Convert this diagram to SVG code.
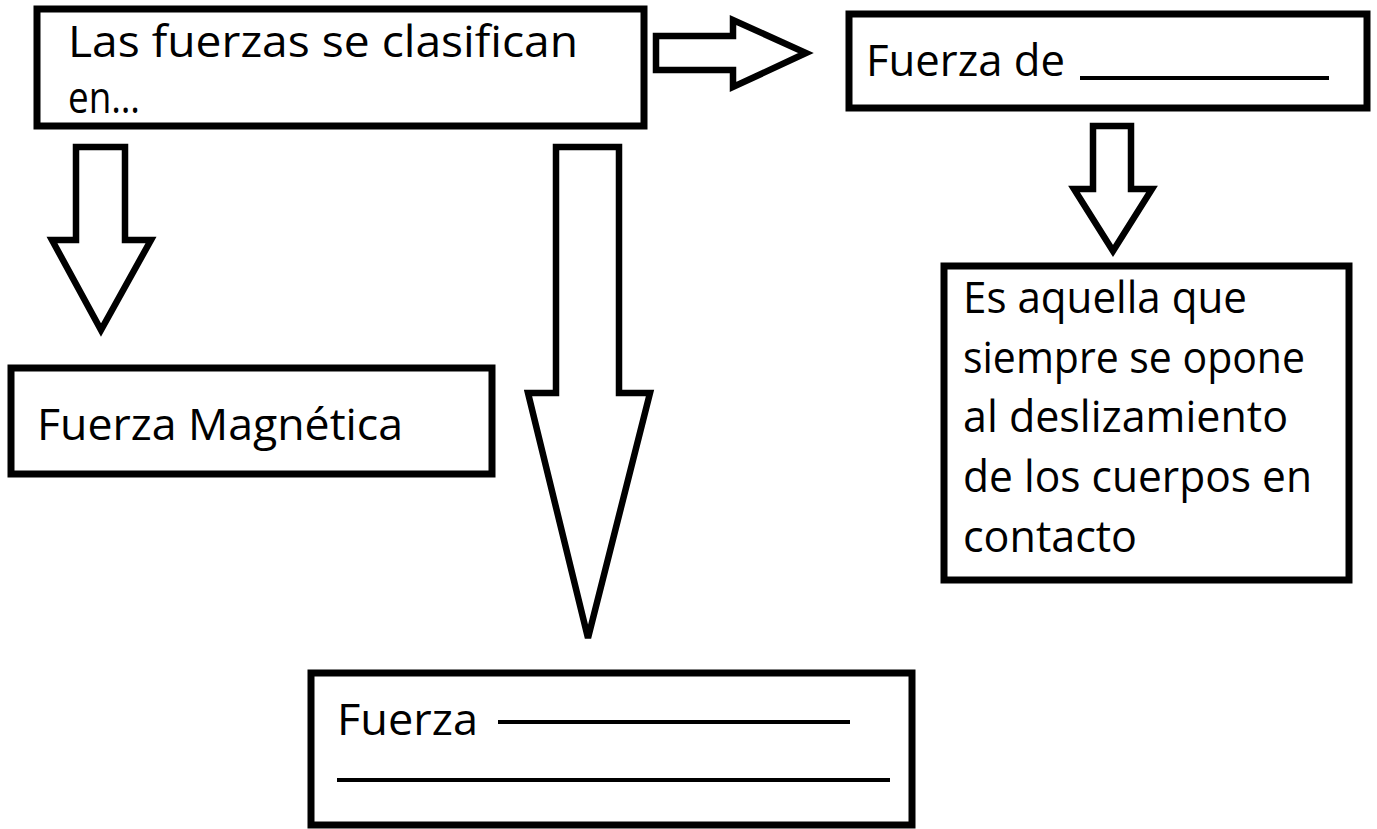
<svg xmlns="http://www.w3.org/2000/svg" width="1377" height="829" viewBox="0 0 1377 829">
<style>
.box{fill:#fff;stroke:#000;stroke-width:7}
.arr{fill:#fff;stroke:#000;stroke-width:6.5;stroke-linejoin:miter}
.t{font-family:"Open Sans","DejaVu Sans",sans-serif;font-size:44px;fill:#000}
.ul{stroke:#000;stroke-width:4}
</style>
<rect width="1377" height="829" fill="#fff"/>
<g id="connectors">
<polygon class="arr" points="656,36 733,36 733,20 806,53 733,87 733,70 656,70"/>
<polygon class="arr" points="1093,126 1131,126 1131,189 1152,189 1113,251 1074,189 1093,189"/>
<polygon class="arr" points="76,147 125,147 125,240 151,240 101,330 52,240 76,240"/>
<polygon class="arr" points="556,147 619,147 619,393 650,393 588,638 528,393 556,393"/>
</g>
<g id="n1">
<rect class="box" x="37" y="9" width="607" height="117"/>
<text class="t" x="68" y="57" textLength="510" lengthAdjust="spacingAndGlyphs">Las fuerzas se clasifican</text>
<text class="t" x="68" y="113" textLength="72" lengthAdjust="spacingAndGlyphs">en…</text>
</g>
<g id="n2">
<rect class="box" x="849" y="14" width="518" height="94"/>
<text class="t" x="866" y="76" textLength="199" lengthAdjust="spacingAndGlyphs">Fuerza de</text>
<line class="ul" x1="1080" y1="78" x2="1329" y2="78"/>
</g>
<g id="n3">
<rect class="box" x="944" y="266" width="405" height="314"/>
<text class="t" x="963" y="313" textLength="284" lengthAdjust="spacingAndGlyphs">Es aquella que</text>
<text class="t" x="963" y="373" textLength="342" lengthAdjust="spacingAndGlyphs">siempre se opone</text>
<text class="t" x="963" y="432" textLength="325" lengthAdjust="spacingAndGlyphs">al deslizamiento</text>
<text class="t" x="963" y="492" textLength="349" lengthAdjust="spacingAndGlyphs">de los cuerpos en</text>
<text class="t" x="963" y="552" textLength="174" lengthAdjust="spacingAndGlyphs">contacto</text>
</g>
<g id="n4">
<rect class="box" x="11" y="368" width="481" height="106"/>
<text class="t" x="37" y="440" textLength="366" lengthAdjust="spacingAndGlyphs">Fuerza Magnética</text>
</g>
<g id="n5">
<rect class="box" x="311" y="673" width="601" height="152"/>
<text class="t" x="337" y="735" textLength="141" lengthAdjust="spacingAndGlyphs">Fuerza</text>
<line class="ul" x1="498" y1="722" x2="850" y2="722"/>
<line class="ul" x1="337" y1="780" x2="890" y2="780"/>
</g>
</svg>
